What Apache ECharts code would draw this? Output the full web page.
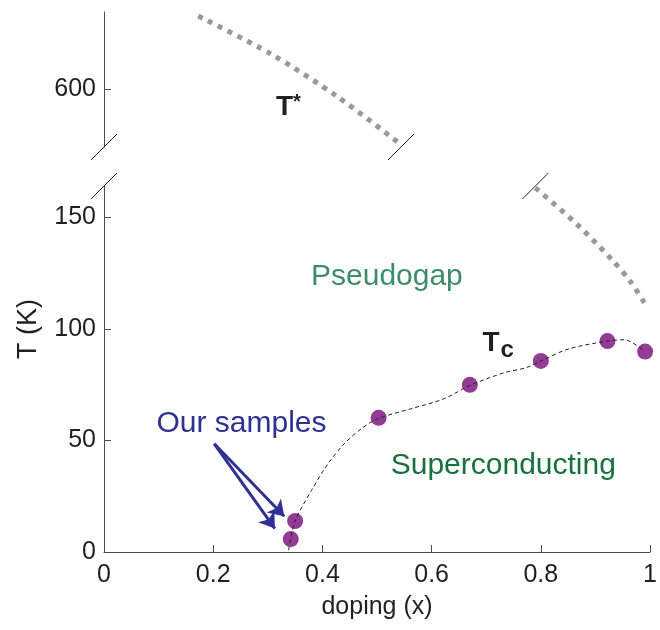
<!DOCTYPE html>
<html>
<head>
<meta charset="utf-8">
<script src="https://cdn.jsdelivr.net/npm/echarts@6/dist/echarts.min.js"></script>
<style>
  html, body { margin: 0; padding: 0; background: #fff; }
  #main { width: 660px; height: 630px; }
</style>
</head>
<body>
<div id="main"></div>
<script>
// Tc data points (doping x, temperature K)
const tcX = [0.342, 0.350, 0.503, 0.670, 0.800, 0.922, 0.991]
const tcY = [5.8, 13.9, 60.1, 74.9, 85.6, 94.5, 89.8]

// dashed guide line through Tc
const fitX = [0.338, 0.350, 0.380, 0.410, 0.440, 0.471, 0.501, 0.561, 0.622, 0.670, 0.735, 0.772, 0.800, 0.851, 0.922, 0.953, 0.991]
const fitY = [0.8, 13.9, 27.6, 39.5, 48.5, 55.2, 59.7, 64.1, 68.6, 74.6, 80.5, 82.5, 85.6, 91.0, 94.5, 95.1, 89.8]

// T* dotted line, upper panel and lower panel
const tStarUpX = [0.171, 0.302, 0.424, 0.539]
const tStarUpY = [633.2, 616.2, 596.7, 575.1]
const tStarLowX = [0.790, 0.866, 0.932, 0.964, 0.991]
const tStarLowY = [163.2, 146.9, 130.5, 121.2, 111.1]

// axis ranges and ticks
const xTicks = [0, 0.2, 0.4, 0.6, 0.8, 1]
const yLowTicks = [0, 50, 100, 150]
const yUpTicks = [600]
const yLowRange = [0, 164]
const yUpRange = [574, 635]

// arrows: tail -> head
const arrowTail = [0.202, 48.5]
const arrowHeads = [[0.330, 16.0], [0.313, 10.5]]

const font = "'Liberation Sans', Arial, Helvetica, sans-serif"
const axisColor = "#4d4d4d"
const textColor = "#231f20"

const zip = (a, b) => a.map((v, i) => [v, b[i]])

const chart = echarts.init(document.getElementById("main"), null, { renderer: "canvas" })

const baseY = {
    type: "value",
    splitLine: { show: false },
    axisLine: { show: true, lineStyle: { color: axisColor, width: 1 } },
    axisTick: { show: true, inside: true, length: 7, lineStyle: { color: axisColor } },
    axisLabel: { color: textColor, fontSize: 25, fontFamily: font, margin: 8 },
}

const textLabel = (txt, color) => ({
    show: true,
    position: [0, 0],
    align: "left",
    verticalAlign: "middle",
    formatter: txt,
    color,
    fontSize: 30,
    fontFamily: font,
})

const option = {
    animation: false,
    backgroundColor: "#fff",
    grid: [
        { left: 104, right: 5, top: 186, bottom: 78 },
        { left: 104, right: 5, top: 12, height: 135 },
    ],
    xAxis: [
        {
            gridIndex: 0,
            type: "value",
            min: 0,
            max: 1,
            interval: 0.2,
            splitLine: { show: false },
            axisLine: { lineStyle: { color: axisColor } },
            axisTick: { inside: true, length: 7, lineStyle: { color: axisColor } },
            axisLabel: {
                color: textColor,
                fontSize: 25,
                fontFamily: font,
                margin: 11,
                formatter: (v) => String(+v.toFixed(1)),
            },
            name: "doping (x)",
            nameLocation: "middle",
            nameGap: 43,
            nameTextStyle: { color: textColor, fontSize: 25, fontFamily: font },
        },
        { gridIndex: 1, type: "value", min: 0, max: 1, show: false },
    ],
    yAxis: [
        Object.assign({}, baseY, {
            gridIndex: 0,
            min: yLowRange[0],
            max: yLowRange[1],
            axisLabel: Object.assign({}, baseY.axisLabel, { customValues: yLowTicks }),
            axisTick: Object.assign({}, baseY.axisTick, { customValues: yLowTicks }),
            name: "T (K)",
            nameLocation: "middle",
            nameGap: 62,
            nameTextStyle: { color: textColor, fontSize: 27, fontFamily: font, padding: [0, 0, 0, 80] },
        }),
        Object.assign({}, baseY, {
            gridIndex: 1,
            min: yUpRange[0],
            max: yUpRange[1],
            axisLabel: Object.assign({}, baseY.axisLabel, { customValues: yUpTicks }),
            axisTick: Object.assign({}, baseY.axisTick, { customValues: yUpTicks }),
        }),
    ],
    series: [
        {
            name: "T*",
            type: "line",
            xAxisIndex: 1,
            yAxisIndex: 1,
            data: zip(tStarUpX, tStarUpY),
            showSymbol: false,
            smooth: 0.3,
            lineStyle: { color: "#999", width: 5, type: [5, 6], cap: "butt" },
            silent: true,
        },
        {
            name: "T* low",
            type: "line",
            data: zip(tStarLowX, tStarLowY),
            showSymbol: false,
            smooth: 0.3,
            lineStyle: { color: "#999", width: 5, type: [5, 6], cap: "butt" },
            silent: true,
        },
        {
            name: "Tc",
            type: "scatter",
            data: zip(tcX, tcY),
            symbolSize: 16,
            itemStyle: { color: "#923c96", opacity: 1 },
            z: 2,
            markLine: {
                silent: true,
                symbol: ["none", "arrow"],
                symbolSize: 15,
                label: { show: false },
                lineStyle: { color: "#2e3192", width: 3, type: "solid", opacity: 1 },
                data: arrowHeads.map((h) => [{ coord: arrowTail }, { coord: h }]),
            },
        },
        {
            name: "Tc fit",
            type: "line",
            data: zip(fitX, fitY),
            showSymbol: false,
            smooth: 0.3,
            lineStyle: { color: "#222", width: 1, type: [4, 3] },
            z: 3,
            silent: true,
        },
        {
            name: "labels",
            type: "scatter",
            symbolSize: 1,
            itemStyle: { color: "rgba(0,0,0,0)", opacity: 1 },
            silent: true,
            data: [
                { value: [0.380, 123.3], label: textLabel("Pseudogap", "#3d8c6a") },
                { value: [0.526, 38.3], label: textLabel("Superconducting", "#17703e") },
                { value: [0.097, 57.1], label: textLabel("Our samples", "#2e3192") },
                {
                    value: [0.694, 93.3],
                    label: Object.assign(textLabel("{t|T}{c|c}", textColor), {
                        rich: {
                            t: { fontSize: 28, fontWeight: "bold", fontFamily: font, color: textColor },
                            c: { fontSize: 24, fontWeight: "bold", fontFamily: font, color: textColor, padding: [14, 0, 0, 1] },
                        },
                    }),
                },
            ],
        },
        {
            name: "labels up",
            type: "scatter",
            xAxisIndex: 1,
            yAxisIndex: 1,
            symbolSize: 1,
            itemStyle: { color: "rgba(0,0,0,0)", opacity: 1 },
            silent: true,
            data: [
                {
                    value: [0.313, 591.6],
                    label: Object.assign(textLabel("{t|T}{s|*}", textColor), {
                        rich: {
                            t: { fontSize: 28, fontWeight: "bold", fontFamily: font, color: textColor },
                            s: { fontSize: 20, fontWeight: "bold", fontFamily: font, color: textColor, padding: [0, 0, 10, 0] },
                        },
                    }),
                },
            ],
        },
    ],
}

chart.setOption(option)

// axis break marks, placed through the grids' own scales
const breakAt = (grid, pt) => {
    const p = chart.convertToPixel({ gridIndex: grid }, pt)
    return {
        type: "line",
        silent: true,
        z: 10,
        shape: { x1: p[0] - 13, y1: p[1] + 13, x2: p[0] + 13, y2: p[1] - 13 },
        style: { stroke: "#222", lineWidth: 1 },
    }
}
chart.setOption({
    graphic: [
        breakAt(1, [0, yUpRange[0]]),
        breakAt(1, [tStarUpX[tStarUpX.length - 1], yUpRange[0]]),
        breakAt(0, [0, yLowRange[1]]),
        breakAt(0, [tStarLowX[0], yLowRange[1]]),
    ],
})
</script>
</body>
</html>
